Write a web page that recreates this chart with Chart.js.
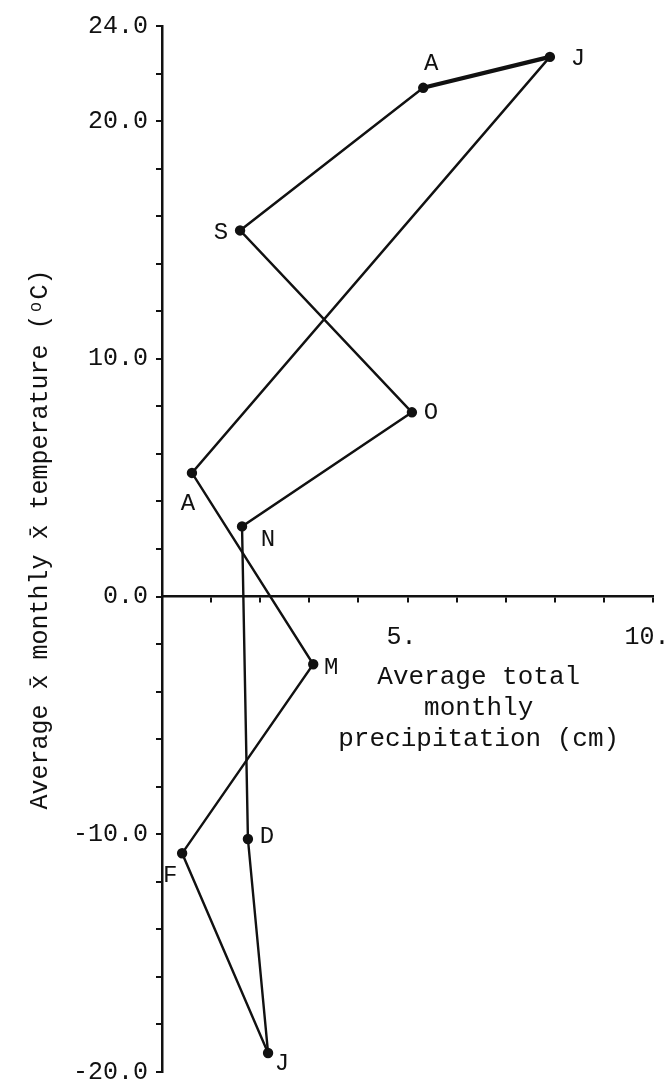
<!DOCTYPE html>
<html>
<head>
<meta charset="utf-8">
<title>Climograph</title>
<script src="https://cdn.jsdelivr.net/npm/chart.js@4.4.1/dist/chart.umd.min.js"></script>
<style>
    html, body { margin: 0; padding: 0; background: #fff; }
    #wrap { width: 667px; height: 1081px; position: relative; }
</style>
</head>
<body>
<div id="wrap"><canvas id="climoChart"></canvas></div>
<script>
// ข้อมูลรายเดือน (ม.ค. -> ธ.ค.) ลำดับตามเส้นที่ลากในกราฟ
var monthLabels = ['J', 'F', 'M', 'A', 'J', 'A', 'S', 'O', 'N', 'D'];
var precipitation = [2.16, 0.41, 3.08, 0.61, 7.90, 5.32, 1.59, 5.09, 1.63, 1.75];
var temperature = [-19.2, -10.8, -2.85, 5.2, 22.7, 21.4, 15.4, 7.75, 2.95, -10.2];

// ค่าติ๊กของแกน
var yLabelTicks = [24, 20, 10, 0, -10, -20];
var xLabelTicks = [5, 10];

// ตำแหน่งป้ายชื่อเดือนเทียบกับจุด (px)
var labelOffsets = [[14, 11], [-12, 22], [18, 3], [-4, 31], [28, 2], [8, -24], [-19, 2], [19, 0], [26, 13], [19, -2]];

// ตัดระยะเผื่อของแกน ให้พื้นที่กราฟตรงกับ layout.padding
function noScalePadding(scale) {
    scale.paddingTop = 0;
    scale.paddingBottom = 0;
    scale.paddingLeft = 0;
    scale.paddingRight = 0;
}

document.addEventListener('DOMContentLoaded', function() {
    // สร้างจุดและปิดวงกลับไปที่เดือนแรก
    var points = precipitation.map(function(p, i) {
        return { x: p, y: temperature[i] };
    });
    points.push({ x: precipitation[0], y: temperature[0] });

    // ป้ายชื่อเดือนที่จุด
    var pointLabelPlugin = {
        id: 'pointLabels',
        afterDatasetsDraw: function(chart) {
            var meta = chart.getDatasetMeta(0);
            var ctx = chart.ctx;
            ctx.save();
            ctx.font = '24px "Liberation Mono"';
            ctx.fillStyle = '#111';
            ctx.textAlign = 'center';
            ctx.textBaseline = 'middle';
            monthLabels.forEach(function(lbl, i) {
                var pt = meta.data[i];
                ctx.fillText(lbl, pt.x + labelOffsets[i][0], pt.y + labelOffsets[i][1]);
            });
            ctx.restore();
        }
    };

    // ชื่อแกนวาดเอง เพื่อให้อยู่ตำแหน่งเดียวกับต้นฉบับ
    var axisTitlePlugin = {
        id: 'axisTitles',
        afterDraw: function(chart) {
            var ctx = chart.ctx;
            var xs = chart.scales.x;
            var ys = chart.scales.y;
            ctx.save();
            ctx.fillStyle = '#111';
            ctx.textAlign = 'center';
            ctx.textBaseline = 'alphabetic';
            ctx.font = '26px "Liberation Mono"';
            var cx = xs.getPixelForValue(6.45);
            var y0 = ys.getPixelForValue(0);
            ['Average total', 'monthly', 'precipitation (cm)'].forEach(function(line, i) {
                ctx.fillText(line, cx, y0 + 87 + i * 31);
            });

            ctx.textBaseline = 'middle';
            ctx.font = '25px "Liberation Mono"';
            ctx.translate(40, ys.getPixelForValue(2.4));
            ctx.rotate(-Math.PI / 2);
            ctx.fillText('Average x\u0304 monthly x\u0304 temperature (\u1d52C)', 0, 0);
            ctx.restore();
        }
    };

    var ctx = document.getElementById('climoChart').getContext('2d');
    var climoChart = new Chart(ctx, {
        type: 'scatter',
        data: {
            datasets: [{
                data: points,
                showLine: true,
                borderColor: '#111',
                backgroundColor: '#111',
                borderWidth: 2.4,
                pointRadius: [4, 4, 4, 4, 4, 4, 4, 4, 4, 4, 0],
                pointHoverRadius: 4,
                segment: {
                    // ช่วง J -> A ด้านบนเส้นหนากว่า
                    borderWidth: function(c) { return c.p0DataIndex === 4 ? 4.2 : 2.4; }
                }
            }]
        },
        options: {
            responsive: true,
            maintainAspectRatio: false,
            animation: false,
            layout: {
                padding: { left: 0, right: 14, top: 26, bottom: 9 }
            },
            plugins: {
                legend: { display: false },
                tooltip: { enabled: false }
            },
            scales: {
                x: {
                    type: 'linear',
                    position: { y: 0 },
                    min: 0,
                    max: 10,
                    afterFit: noScalePadding,
                    border: { display: true, color: '#111', width: 2.5 },
                    grid: { drawOnChartArea: false, drawTicks: true, tickLength: 5, color: '#111', lineWidth: 2 },
                    ticks: {
                        stepSize: 1,
                        autoSkip: false,
                        maxRotation: 0,
                        padding: 21,
                        labelOffset: -6,
                        color: '#111',
                        font: { family: '"Liberation Mono"', size: 25 },
                        callback: function(v) {
                            return xLabelTicks.indexOf(v) >= 0 ? v + '.' : '';
                        }
                    }
                },
                y: {
                    type: 'linear',
                    position: 'left',
                    min: -20,
                    max: 24,
                    afterFit: function(scale) {
                        noScalePadding(scale);
                        scale.width = 162;
                    },
                    border: { display: true, color: '#111', width: 2.5 },
                    grid: { drawOnChartArea: false, drawTicks: true, tickLength: 6, color: '#111', lineWidth: 2 },
                    ticks: {
                        stepSize: 2,
                        autoSkip: false,
                        padding: 8,
                        color: '#111',
                        font: { family: '"Liberation Mono"', size: 25 },
                        callback: function(v) {
                            return yLabelTicks.indexOf(v) >= 0 ? v.toFixed(1) : '';
                        }
                    }
                }
            }
        },
        plugins: [pointLabelPlugin, axisTitlePlugin]
    });
});
</script>
</body>
</html>
